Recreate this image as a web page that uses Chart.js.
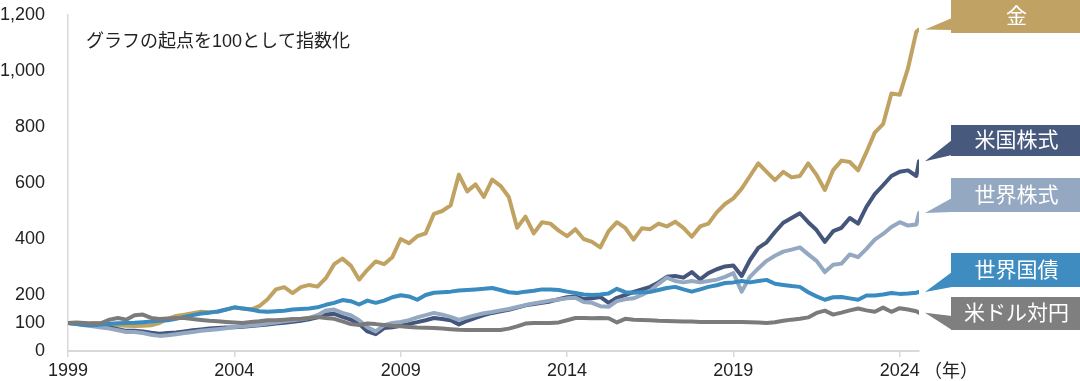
<!DOCTYPE html>
<html><head><meta charset="utf-8">
<script src="https://cdn.jsdelivr.net/npm/chart.js@4.4.1/dist/chart.umd.min.js"></script>
<style>html,body{margin:0;padding:0;background:#fff;}canvas{display:block;}</style>
</head><body>
<canvas id="c" width="1080" height="381"></canvas>
<script>
// ---- data (index, start = 100), quarterly samples ----
const years = [1999,2000,2001,2002,2003,2004,2005,2006,2007,2008,2009,2010,2011,2012,2013,2014,2015,2016,2017,2018,2019,2020,2021,2022,2023,2024];
const quarterOffsets = [0, 0.25, 0.5, 0.75];
const lastDate = 2024.58;
const xTickYears = [1999, 2004, 2009, 2014, 2019, 2024];
const yTickValues = [0, 100, 200, 400, 600, 800, 1000, 1200];
const seriesNames = ['米ドル対円', '世界国債', '世界株式', '米国株式', '金'];

const gold = [
 100,98,93,100, 98,95,92,90, 89,90,92,100, 115,125,130,135, 140,138,140,148,
 155,152,148,160, 185,220,228,207, 228,236,230,260, 310,330,305,255, 290,320,310,335,
 400,385,410,420, 490,500,520,630, 570,595,550,612, 590,550,440,480, 420,460,455,430,
 410,435,400,390, 370,428,460,440, 398,438,435,455, 445,462,440,408, 445,455,495,525,
 545,580,625,670, 640,610,640,620, 625,670,629,575, 646,680,675,645, 710,780,810,920,
 915,1010,1140,1148];
const usStocks = [
 100,98,95,92, 88,84,78,72, 72,70,65,62, 64,66,70,74, 77,80,82,84,
 85,87,89,92, 95,98,101,104, 108,113,120,130, 133,122,112,97, 70,60,82,85,
 90,97,103,110, 118,114,110,95, 108,118,128,136, 142,147,155,163, 168,172,177,185,
 192,195,185,188, 193,172,190,200, 211,220,229,245, 265,268,262,282, 256,278,292,302,
 305,268,325,368, 388,425,458,475, 492,460,432,390, 428,440,475,455, 515,560,592,625,
 640,645,625,678];
const worldStocks = [
 100,97,92,88, 84,80,74,68, 68,64,58,54, 56,60,64,68, 72,75,78,81,
 86,88,91,94, 98,102,106,110, 113,118,128,145, 148,136,128,110, 85,70,92,100,
 104,110,120,128, 136,130,122,111, 120,128,135,139, 145,150,157,164, 170,175,180,184,
 188,190,175,172, 160,158,178,185, 188,200,215,240, 262,250,245,250, 245,250,255,265,
 278,212,265,295, 322,340,355,362, 370,345,322,282, 308,312,345,335, 365,398,418,443,
 460,448,452,493];
const worldBonds = [
 100,96,93,92, 95,97,99,100, 101,103,105,108, 110,115,122,128, 134,137,141,148,
 156,152,148,142, 140,142,144,148, 150,152,156,165, 172,182,178,166, 180,172,180,192,
 199,195,183,200, 208,210,212,216, 218,220,222,225, 218,210,207,212, 215,220,220,218,
 212,207,202,200, 202,205,222,210, 208,210,211,218, 225,229,220,212, 220,229,235,243,
 245,250,245,250, 254,240,236,232, 229,210,195,183, 192,193,188,183, 198,198,202,207,
 204,205,208,211];
const usdJpy = [
 100,102,100,98, 100,112,118,112, 128,130,118,114, 116,118,118,114, 111,108,106,104,
 102,100,104,106, 110,110,112,114, 115,118,121,118, 115,106,96,93, 98,96,93,90,
 88,86,84,83, 82,80,78,76, 75,75,75,75, 75,80,88,98, 100,100,100,102,
 110,118,118,117, 118,117,102,115, 112,111,110,108, 107,106,105,105, 104,104,104,104,
 104,104,103,102, 100,103,108,112, 115,120,136,144, 130,137,145,152, 145,140,155,140,
 153,148,142,137];

// dates (category positions) built from the year / quarter lists
const dates = [];
years.forEach(y => quarterOffsets.forEach(q => { if (y + q <= 2024.5) dates.push(y + q); }));
dates.push(lastDate);

const colors = ['#7B7B7B', '#3A8BC0', '#95A8C1', '#44567B', '#C0A362'];
const boxColors = ['#7F7F7F', '#3F8DC0', '#95A8C2', '#475A7E', '#BFA264'];
const seriesValues = [usdJpy, worldBonds, worldStocks, usStocks, gold];

const JP = '"Liberation Sans", Arial, "Noto Sans CJK JP", sans-serif';

const labelLayout = [
  {top: 297, bottom: 330, baseTop: 316, baseBottom: 330},
  {top: 253, bottom: 287, baseTop: 272, baseBottom: 287},
  {top: 178, bottom: 212, baseTop: 198, baseBottom: 212},
  {top: 125, bottom: 156, baseTop: 140, baseBottom: 155},
  {top: 0,   bottom: 33,  baseTop: 18,  baseBottom: 30}
];

const overlay = {
  id: 'overlay',
  afterDraw(chart) {
    const ctx = chart.ctx;
    const xs = chart.scales.x, ys = chart.scales.y;
    ctx.save();
    ctx.fillStyle = '#222';
    ctx.font = '18px ' + JP;
    ctx.textAlign = 'left';
    ctx.textBaseline = 'middle';
    ctx.fillText('グラフの起点を100として指数化', 86, 42);
    ctx.font = '18px "Noto Sans CJK JP", sans-serif';
    ctx.fillText('（年）', 924, 370);
    const boxLeft = 951, boxRight = 1080;
    seriesNames.forEach((name, i) => {
      const L = labelLayout[i];
      const vals = seriesValues[i];
      const tipX = xs.getPixelForValue(dates[dates.length - 1]) + 6;
      const tipY = ys.getPixelForValue(vals[vals.length - 1]);
      ctx.fillStyle = boxColors[i];
      ctx.beginPath();
      ctx.moveTo(tipX, tipY);
      ctx.lineTo(boxLeft + 1, L.baseTop);
      ctx.lineTo(boxLeft + 1, L.baseBottom);
      ctx.closePath();
      ctx.fill();
      ctx.fillRect(boxLeft, L.top, boxRight - boxLeft, L.bottom - L.top);
      ctx.fillStyle = '#fff';
      ctx.font = '21px ' + JP;
      ctx.textAlign = 'center';
      ctx.textBaseline = 'middle';
      ctx.fillText(name, (boxLeft + boxRight) / 2 + 1, (L.top + L.bottom) / 2 + 1);
    });
    ctx.restore();
  }
};

new Chart(document.getElementById('c'), {
  type: 'line',
  data: {
    datasets: seriesNames.map((name, i) => ({
      label: name,
      data: dates.map((d, k) => ({x: d, y: seriesValues[i][k]})),
      borderColor: colors[i],
      borderWidth: 4,
      pointRadius: 0,
      tension: 0,
      borderJoinStyle: 'round',
      borderCapStyle: 'round',
      fill: false
    }))
  },
  options: {
    responsive: false,
    animation: false,
    layout: {padding: {left: 0, right: 161, top: 15, bottom: 0}},
    plugins: {legend: {display: false}, tooltip: {enabled: false}},
    scales: {
      x: {
        type: 'linear', min: 1999, max: lastDate,
        afterBuildTicks: s => { s.ticks = xTickYears.map(v => ({value: v})); },
        afterFit: s => { s.height = 30; s.paddingLeft = 0; s.paddingRight = 0; s.paddingTop = 0; s.paddingBottom = 0; },
        grid: {display: true, drawOnChartArea: false, drawTicks: true, tickLength: 6, color: '#d9d9d9', lineWidth: 1.5},
        border: {display: true, color: '#d9d9d9', width: 2},
        ticks: {padding: 3, autoSkip: false, maxRotation: 0, color: '#222', font: {size: 18, family: JP}, callback: v => String(v)}
      },
      y: {
        min: 0, max: 1200,
        afterBuildTicks: s => { s.ticks = yTickValues.map(v => ({value: v})); },
        afterFit: s => { s.width = 68; s.paddingTop = 0; s.paddingBottom = 0; s.paddingLeft = 0; s.paddingRight = 0; },
        grid: {display: false, drawTicks: false},
        border: {display: true, color: '#d9d9d9', width: 1.5},
        ticks: {padding: 23, color: '#222', font: {size: 18, family: JP}, callback: v => v.toLocaleString('en-US')}
      }
    }
  },
  plugins: [overlay]
});
</script>
</body></html>
